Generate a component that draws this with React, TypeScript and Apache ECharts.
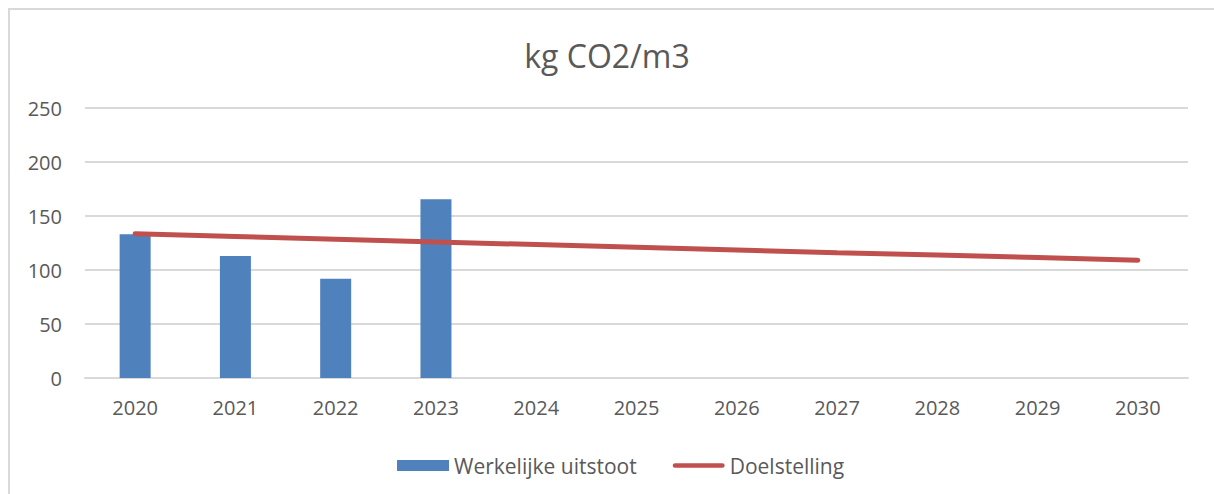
import React, { useEffect, useRef } from "react";
import * as echarts from "echarts";

const years = ["2020", "2021", "2022", "2023", "2024", "2025", "2026", "2027", "2028", "2029", "2030"];
const actual = [133, 113, 92, 165.5, null, null, null, null, null, null, null];
const target = [133.5, 131, 128.5, 126, 123.5, 121, 118.5, 116, 114, 111.5, 109];
const yTicks = [0, 50, 100, 150, 200, 250];

const FONT = "'Open Sans', 'Noto Sans', sans-serif";
const TXT = "#595959";

export default function App() {
  const ref = useRef<HTMLDivElement>(null);
  useEffect(() => {
    const chart = echarts.init(ref.current!, null, { renderer: "svg" });
    chart.setOption({
      animation: false,
      backgroundColor: "#ffffff",
      title: {
        text: "kg CO2/m3",
        left: "center",
        top: 34,
        textStyle: { fontFamily: FONT, fontSize: 32, fontWeight: "normal", color: TXT },
      },
      graphic: [
        {
          type: "rect",
          shape: { x: 9, y: 9, width: 1400, height: 700 },
          style: { fill: "none", stroke: "#d9d9d9", lineWidth: 2 },
          silent: true,
        },
      ],
      grid: { left: 85, right: 26, top: 108, bottom: 116 },
      legend: {
        left: 392,
        top: 450,
        itemGap: 36,
        itemWidth: 52,
        itemHeight: 11,
        textStyle: { fontFamily: FONT, fontSize: 21, color: TXT },
        data: [
          { name: "Werkelijke uitstoot", icon: "rect" },
          {
            name: "Doelstelling",
            icon: "path://M2.5,0 L52.5,0 A2.5,2.5 0 0 1 52.5,5 L2.5,5 A2.5,2.5 0 0 1 2.5,0 Z",
          },
        ],
      },
      xAxis: {
        type: "category",
        data: years,
        axisLine: { lineStyle: { color: "#d9d9d9", width: 2 } },
        axisTick: { show: false },
        axisLabel: { fontFamily: FONT, fontSize: 20, color: TXT, margin: 19 },
      },
      yAxis: {
        type: "value",
        min: yTicks[0],
        max: yTicks[yTicks.length - 1],
        interval: 50,
        axisLine: { show: false },
        axisTick: { show: false },
        splitLine: { lineStyle: { color: "#d9d9d9", width: 2 } },
        axisLabel: { fontFamily: FONT, fontSize: 20, color: TXT, margin: 23 },
      },
      series: [
        {
          name: "Werkelijke uitstoot",
          type: "bar",
          data: actual,
          barWidth: 31,
          itemStyle: { color: "#4f81bd" },
        },
        {
          name: "Doelstelling",
          type: "line",
          data: target,
          symbol: "none",
          lineStyle: { color: "#c0504d", width: 5, cap: "round" },
          itemStyle: { color: "#c0504d" },
        },
      ],
    });
    return () => chart.dispose();
  }, []);
  return (
    <div style={{ position: "absolute", left: 0, top: 0, width: 1214, height: 494 }}>
      <div ref={ref} style={{ width: 1214, height: 494 }} />
    </div>
  );
}
